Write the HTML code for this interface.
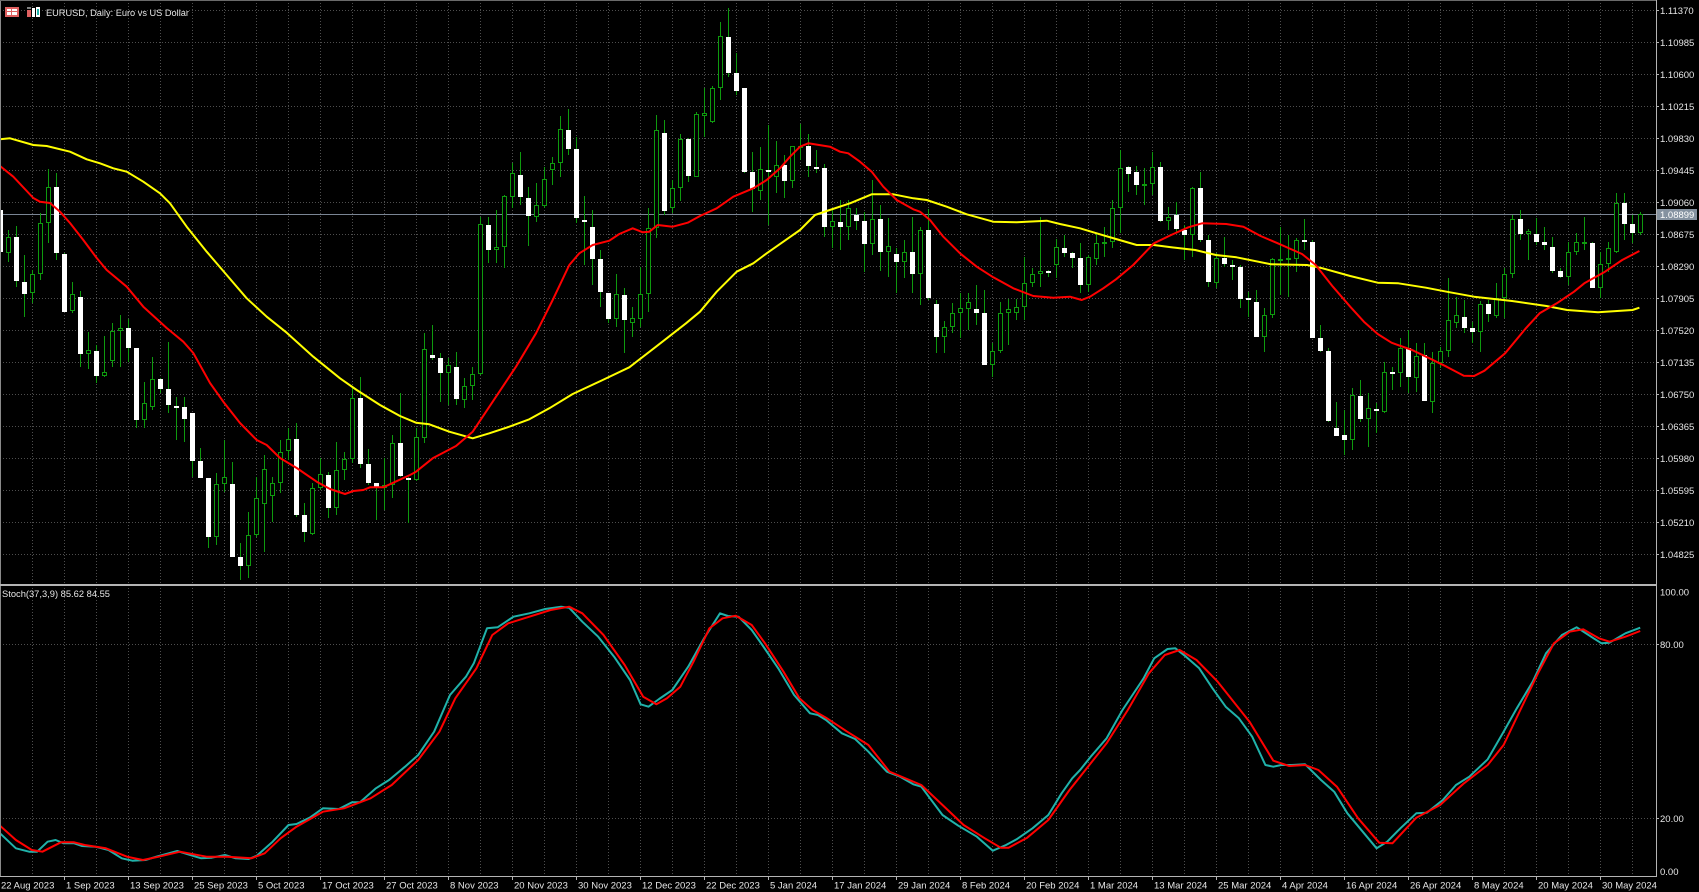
<!DOCTYPE html>
<html>
<head>
<meta charset="utf-8">
<style>
html,body{margin:0;padding:0;background:#000;width:1699px;height:892px;overflow:hidden;}
svg{display:block;}
text{font-family:"Liberation Sans",sans-serif;fill:#e6e6e6;}
</style>
</head>
<body>
<svg width="1699" height="892" viewBox="0 0 1699 892" xmlns="http://www.w3.org/2000/svg">
<rect x="0" y="0" width="1699" height="892" fill="#000"/>

<!-- grid -->
<g stroke="#4e4e4e" stroke-width="1" stroke-dasharray="1 2" fill="none">
<path d="M32.5 0V876M64.5 0V876M96.5 0V876M128.5 0V876M160.5 0V876M192.5 0V876M224.5 0V876M256.5 0V876M288.5 0V876M320.5 0V876M352.5 0V876M384.5 0V876M416.5 0V876M448.5 0V876M480.5 0V876M512.5 0V876M544.5 0V876M576.5 0V876M608.5 0V876M640.5 0V876M672.5 0V876M704.5 0V876M736.5 0V876M768.5 0V876M800.5 0V876M832.5 0V876M864.5 0V876M896.5 0V876M928.5 0V876M960.5 0V876M992.5 0V876M1024.5 0V876M1056.5 0V876M1088.5 0V876M1120.5 0V876M1152.5 0V876M1184.5 0V876M1216.5 0V876M1248.5 0V876M1280.5 0V876M1312.5 0V876M1344.5 0V876M1376.5 0V876M1408.5 0V876M1440.5 0V876M1472.5 0V876M1504.5 0V876M1536.5 0V876M1568.5 0V876M1600.5 0V876M1632.5 0V876"/>
<path d="M0 10.5H1656M0 42.5H1656M0 74.5H1656M0 106.5H1656M0 138.5H1656M0 170.5H1656M0 202.5H1656M0 234.5H1656M0 266.5H1656M0 298.5H1656M0 330.5H1656M0 362.5H1656M0 394.5H1656M0 426.5H1656M0 458.5H1656M0 490.5H1656M0 522.5H1656M0 554.5H1656M0 644.5H1656M0 818.5H1656"/>
</g>

<!-- bid line -->
<path d="M0 214.5H1656" stroke="#7a8594" stroke-width="1"/>

<svg x="0" y="0" width="1656" height="585" overflow="hidden">
<!-- wicks -->
<path fill="none" stroke="#0e9a0e" stroke-width="1" d="M.5 200V270M8.5 230V262M16.5 226V287M24.5 255V317M32.5 270V303M40.5 213V280M48.5 169V243M56.5 173V260M64.5 253V312M72.5 282V313M80.5 291V367M88.5 332V369M96.5 345V383M104.5 336V377M112.5 323V367M120.5 315V367M128.5 319V362M136.5 348V428M144.5 382V428M152.5 357V410M160.5 378V393M168.5 342V413M176.5 397V440M184.5 397V442M192.5 413V477M200.5 448V478M208.5 478V548M216.5 473V545M224.5 440V492M232.5 462V557M240.5 543V580M248.5 512V578M256.5 477V537M264.5 455V552M272.5 477V522M280.5 440V493M288.5 428V460M296.5 423V517M304.5 503V542M312.5 483V535M320.5 458V490M328.5 472V518M336.5 442V515M344.5 452V480M352.5 388V463M360.5 377V468M368.5 449V485M376.5 483V520M384.5 458V510M392.5 435V498M400.5 393V477M408.5 477V523M416.5 428V481M424.5 333V443M432.5 325V360M440.5 353V402M448.5 358V405M456.5 352V405M464.5 378V408M472.5 367V400M480.5 217V375M488.5 217V263M496.5 210V263M504.5 195V268M512.5 163V208M520.5 152V205M528.5 187V246M536.5 183V222M544.5 167V208M552.5 157V185M560.5 116V177M568.5 109V155M576.5 137V223M584.5 196V265M592.5 210V285M600.5 250V307M608.5 293V323M616.5 274V327M624.5 288V353M632.5 307V337M640.5 267V327M648.5 208V312M656.5 115V238M664.5 120V215M672.5 180V213M680.5 134V201M688.5 138V182M696.5 112V177M704.5 88V137M712.5 86V123M720.5 22V100M728.5 8V77M736.5 53V95M744.5 88V173M752.5 152V212M760.5 147V200M768.5 125V225M776.5 141V193M784.5 155V198M792.5 146V188M800.5 124V160M808.5 134V177M816.5 150V173M824.5 164V237M832.5 208V248M840.5 200V250M848.5 200V240M856.5 208V230M864.5 212V272M872.5 180V255M880.5 205V271M888.5 218V277M896.5 248V293M904.5 240V278M912.5 217V293M920.5 227V305M928.5 209V300M936.5 300V353M944.5 321V353M952.5 303V333M960.5 293V338M968.5 293V330M976.5 285V325M984.5 290V365M992.5 343V377M1000.5 302V353M1008.5 299V345M1016.5 299V320M1024.5 257V320M1032.5 268V287M1040.5 217V287M1048.5 270V277M1056.5 239V278M1064.5 235V257M1072.5 252V268M1080.5 243V293M1088.5 255V292M1096.5 233V265M1104.5 227V257M1112.5 200V248M1120.5 150V233M1128.5 166V192M1136.5 166V195M1144.5 168V205M1152.5 152V195M1160.5 162V222M1168.5 207V230M1176.5 202V232M1184.5 225V260M1192.5 187V257M1200.5 172V242M1208.5 235V287M1216.5 253V288M1224.5 237V267M1232.5 260V280M1240.5 265V308M1248.5 292V317M1256.5 290V337M1264.5 308V352M1272.5 258V318M1280.5 227V295M1288.5 235V297M1296.5 238V272M1304.5 219V250M1312.5 240V338M1320.5 325V352M1328.5 348V422M1336.5 402V436M1344.5 410V455M1352.5 388V450M1360.5 380V422M1368.5 393V447M1376.5 403V433M1384.5 362V413M1392.5 367V390M1400.5 338V387M1408.5 330V393M1416.5 343V392M1424.5 343V401M1432.5 352V413M1440.5 347V368M1448.5 278V357M1456.5 297V328M1464.5 300V333M1472.5 322V343M1480.5 301V352M1488.5 300V322M1496.5 283V318M1504.5 268V318M1512.5 215V278M1520.5 210V240M1528.5 229V260M1536.5 218V245M1544.5 227V250M1552.5 237V273M1560.5 268V278M1568.5 242V285M1576.5 233V255M1584.5 217V250M1592.5 242V288M1600.5 252V298M1608.5 242V272M1616.5 193V253M1624.5 193V240M1632.5 215V243M1640.5 212V235"/>

<!-- bear (white) bodies -->
<path fill="#ffffff" d="M-2 210h5V252h-5zM14 237h5V281h-5zM22 282h5V294h-5zM54 187h5V253h-5zM62 254h5V312h-5zM78 297h5V354h-5zM94 351h5V376h-5zM126 328h5V348h-5zM134 348h5V420h-5zM158 379h5V389h-5zM166 389h5V405h-5zM174 406h5V408h-5zM182 407h5V419h-5zM190 413h5V461h-5zM198 461h5V478h-5zM206 478h5V537h-5zM230 484h5V557h-5zM238 557h5V566h-5zM294 439h5V515h-5zM302 515h5V532h-5zM326 475h5V508h-5zM358 398h5V464h-5zM366 464h5V483h-5zM374 483h5V487h-5zM398 443h5V476h-5zM406 478h5V480h-5zM430 355h5V358h-5zM438 358h5V373h-5zM454 367h5V399h-5zM486 225h5V250h-5zM518 175h5V197h-5zM526 198h5V216h-5zM566 130h5V149h-5zM574 149h5V218h-5zM582 220h5V222h-5zM590 227h5V259h-5zM598 259h5V292h-5zM606 293h5V319h-5zM622 295h5V320h-5zM662 133h5V211h-5zM686 139h5V176h-5zM726 37h5V73h-5zM734 73h5V91h-5zM742 88h5V172h-5zM750 172h5V189h-5zM766 170h5V172h-5zM782 165h5V181h-5zM806 146h5V166h-5zM814 167h5V169h-5zM822 168h5V227h-5zM838 222h5V227h-5zM854 215h5V221h-5zM862 221h5V244h-5zM878 219h5V252h-5zM894 254h5V262h-5zM910 252h5V274h-5zM926 230h5V298h-5zM934 304h5V337h-5zM974 309h5V313h-5zM982 313h5V365h-5zM1046 271h5V273h-5zM1062 248h5V253h-5zM1070 253h5V258h-5zM1078 258h5V285h-5zM1126 167h5V174h-5zM1134 172h5V185h-5zM1158 167h5V221h-5zM1174 215h5V229h-5zM1182 230h5V235h-5zM1198 188h5V240h-5zM1206 240h5V282h-5zM1222 258h5V264h-5zM1230 265h5V267h-5zM1238 267h5V299h-5zM1246 298h5V300h-5zM1254 302h5V337h-5zM1302 240h5V242h-5zM1310 242h5V338h-5zM1318 338h5V351h-5zM1326 351h5V421h-5zM1334 428h5V436h-5zM1342 435h5V440h-5zM1358 396h5V419h-5zM1374 409h5V411h-5zM1390 372h5V374h-5zM1406 348h5V377h-5zM1422 355h5V401h-5zM1462 317h5V328h-5zM1470 328h5V332h-5zM1486 304h5V314h-5zM1518 219h5V234h-5zM1534 234h5V242h-5zM1542 242h5V245h-5zM1550 247h5V271h-5zM1558 271h5V277h-5zM1590 243h5V288h-5zM1622 203h5V224h-5zM1630 224h5V233h-5z"/>

<!-- bull (hollow) bodies -->
<path fill="#000" stroke="#0e9a0e" stroke-width="1" d="M6.5 237.5h4V252.5h-4zM30.5 274.5h4V292.5h-4zM38.5 223.5h4V273.5h-4zM46.5 187.5h4V222.5h-4zM70.5 294.5h4V310.5h-4zM86.5 350.5h4V353.5h-4zM102.5 372.5h4V375.5h-4zM110.5 331.5h4V360.5h-4zM118.5 328.5h4V330.5h-4zM142.5 403.5h4V419.5h-4zM150.5 379.5h4V406.5h-4zM214.5 484.5h4V536.5h-4zM222.5 477.5h4V483.5h-4zM246.5 535.5h4V565.5h-4zM254.5 498.5h4V534.5h-4zM262.5 469.5h4V503.5h-4zM270.5 483.5h4V495.5h-4zM278.5 452.5h4V482.5h-4zM286.5 439.5h4V450.5h-4zM310.5 488.5h4V533.5h-4zM318.5 474.5h4V487.5h-4zM334.5 470.5h4V507.5h-4zM342.5 459.5h4V469.5h-4zM350.5 398.5h4V458.5h-4zM382.5 485.5h4V487.5h-4zM390.5 443.5h4V484.5h-4zM414.5 437.5h4V479.5h-4zM422.5 349.5h4V437.5h-4zM446.5 365.5h4V372.5h-4zM462.5 386.5h4V399.5h-4zM470.5 374.5h4V385.5h-4zM478.5 224.5h4V373.5h-4zM494.5 247.5h4V249.5h-4zM502.5 196.5h4V246.5h-4zM510.5 173.5h4V196.5h-4zM534.5 205.5h4V216.5h-4zM542.5 179.5h4V205.5h-4zM550.5 163.5h4V169.5h-4zM558.5 129.5h4V162.5h-4zM614.5 294.5h4V318.5h-4zM630.5 318.5h4V322.5h-4zM638.5 294.5h4V318.5h-4zM646.5 228.5h4V293.5h-4zM654.5 130.5h4V227.5h-4zM670.5 188.5h4V207.5h-4zM678.5 139.5h4V187.5h-4zM694.5 114.5h4V176.5h-4zM702.5 113.5h4V115.5h-4zM710.5 88.5h4V121.5h-4zM718.5 36.5h4V87.5h-4zM758.5 169.5h4V190.5h-4zM774.5 165.5h4V176.5h-4zM790.5 146.5h4V180.5h-4zM798.5 146.5h4V147.5h-4zM830.5 221.5h4V226.5h-4zM846.5 208.5h4V226.5h-4zM870.5 219.5h4V243.5h-4zM886.5 246.5h4V251.5h-4zM902.5 252.5h4V261.5h-4zM918.5 230.5h4V273.5h-4zM942.5 327.5h4V336.5h-4zM950.5 313.5h4V326.5h-4zM958.5 308.5h4V312.5h-4zM966.5 302.5h4V308.5h-4zM990.5 351.5h4V364.5h-4zM998.5 313.5h4V350.5h-4zM1006.5 309.5h4V312.5h-4zM1014.5 307.5h4V312.5h-4zM1022.5 283.5h4V306.5h-4zM1030.5 274.5h4V282.5h-4zM1038.5 271.5h4V273.5h-4zM1054.5 247.5h4V264.5h-4zM1086.5 257.5h4V284.5h-4zM1094.5 243.5h4V258.5h-4zM1102.5 242.5h4V243.5h-4zM1110.5 208.5h4V241.5h-4zM1118.5 168.5h4V207.5h-4zM1142.5 184.5h4V185.5h-4zM1150.5 167.5h4V183.5h-4zM1166.5 217.5h4V220.5h-4zM1190.5 188.5h4V234.5h-4zM1214.5 258.5h4V282.5h-4zM1262.5 315.5h4V336.5h-4zM1270.5 259.5h4V314.5h-4zM1278.5 259.5h4V260.5h-4zM1286.5 258.5h4V259.5h-4zM1294.5 240.5h4V258.5h-4zM1350.5 395.5h4V439.5h-4zM1366.5 408.5h4V418.5h-4zM1382.5 372.5h4V411.5h-4zM1398.5 348.5h4V372.5h-4zM1414.5 356.5h4V377.5h-4zM1430.5 363.5h4V401.5h-4zM1438.5 351.5h4V362.5h-4zM1446.5 320.5h4V350.5h-4zM1454.5 315.5h4V322.5h-4zM1478.5 304.5h4V331.5h-4zM1494.5 298.5h4V315.5h-4zM1502.5 274.5h4V297.5h-4zM1510.5 219.5h4V273.5h-4zM1526.5 231.5h4V233.5h-4zM1566.5 252.5h4V276.5h-4zM1574.5 242.5h4V251.5h-4zM1582.5 242.5h4V243.5h-4zM1598.5 264.5h4V287.5h-4zM1606.5 248.5h4V263.5h-4zM1614.5 203.5h4V251.5h-4zM1638.5 214.5h4V232.5h-4z"/>

<!-- moving averages -->
<polyline fill="none" stroke="#ffff00" stroke-width="2" stroke-linejoin="round" points="0,139.3 10,138.3 33.3,145 46.7,146 70,151.7 86.7,159.3 100,163.3 113.3,168.3 126.7,171.7 143.3,181.7 160,193.3 170,203.3 186.7,226.7 206.7,251.7 226.7,275 246.7,298.3 266.7,316.7 286.7,332.7 313.3,356.7 340,378.3 356.7,390 380,405 400,416 416,422.7 429.3,424.3 449.3,431.7 472.7,438.3 489.3,433.3 509.3,426.7 529.3,419.3 549.3,408.3 572.7,394 602.7,380 629.3,367.3 656,346.7 686,323.3 700,311.7 716.7,291.7 736.7,271.7 753.3,263.3 766.7,253.3 786.7,239.3 800,230 815,215 826.7,211 850,203.3 871.7,194.3 893.3,194.3 913.3,198.3 926.7,200 946.7,206.7 966.7,214.3 993.3,221.7 1016.7,222.3 1046.7,220.7 1060,224 1080,228.3 1100,234.3 1116,239 1136.7,245 1153.9,245 1171.1,247.3 1195.2,250 1215.9,255 1236.5,257.3 1271,264.3 1307.1,265 1322.6,268.3 1350.2,276 1377.7,282.7 1398.4,283.3 1425.9,287.7 1446.6,291.7 1474.1,296.7 1512,301 1546.4,306 1567.1,310 1598,312.3 1632.5,310 1639.4,307.7"/>
<polyline fill="none" stroke="#ff0000" stroke-width="2" stroke-linejoin="round" points="0,166 13.3,176.7 33.3,198 40,201.7 50,203 60,211.7 70,223 83.3,240 96.7,258 106.7,270 126.7,286.7 143.3,306.7 166.7,328 183.3,341.7 193.3,353 210,383 223.3,401.7 240,423 256.7,440 266.7,445 280,458 296.7,468 316.7,481.7 330,489 345,494 353.3,491 363.3,490 370,487.3 383.3,487.3 393.3,482.7 410,475 416,471.7 432.7,458.3 456,446 472.7,431.7 492.7,401.7 516,366.7 536,333.3 552.7,300 569.3,265 579.3,253.3 592.7,245 609.3,240.7 619.3,234 632.7,228.3 642.7,232.3 649.3,231.7 657.7,225 672.7,226.7 687.7,222.7 700,216 716.7,208.3 733.3,196.7 753.3,188.3 766.7,180 780,168.3 790,156.7 800,146.7 808.3,143.3 830,146.7 840,151.7 848.3,153.3 860,161.7 871.7,171.7 883.3,186.7 896.7,200 913.3,209.3 920,211.7 930,220 943.3,236.7 960,253.3 976.7,266.7 993.3,277.3 1013.3,288.3 1033.3,296 1053.3,297.7 1070,296.7 1081.7,300 1090,296.7 1103.3,288.3 1116,279.3 1133.2,265 1153.9,243.3 1171.1,235 1188.3,227.3 1202.1,223.3 1226.2,224 1243.4,226.7 1260.6,236 1277.8,243.3 1302,254 1315.7,265 1332.9,286.7 1350.2,306.7 1363.9,321.7 1377.7,334 1391.5,342.7 1412.1,350 1429.4,358.3 1446.6,366.7 1463.8,375.7 1474.1,376 1484.5,370.7 1505.1,353.3 1525.8,328.3 1539.6,313.3 1556.8,303.3 1574,291.7 1584.3,283.3 1605,271.7 1622.2,260 1639.4,251"/>
</svg>

<!-- stochastic -->
<svg x="0" y="586" width="1656" height="290" overflow="hidden">
<g transform="translate(0,-586)">
<polyline fill="none" stroke="#20b2aa" stroke-width="2" stroke-linejoin="round" points="0,833.3 15.9,848.3 29.1,851.7 37.1,851.7 47.6,841.7 55.6,840 63.5,843.3 74.1,843.3 82.1,846 95.3,846.7 108.5,850 121.8,858.3 132.3,860.7 145.6,860 156.2,856.7 177.3,851 187.9,854.3 201.2,858.3 211.8,857.7 225,855 235.6,858.3 248.8,859 256.8,855.7 272.6,841.7 288.5,825 296.5,824 309.7,817.7 322.9,808.3 338.8,809 352,802.3 360,802.3 375.9,788.3 389.1,780 405,766.7 418.2,755 434.1,731.7 450,695 465.9,676.7 473.8,663.3 487,628.3 497.6,627.3 513.5,616.7 529.4,613.3 545.3,609 561.1,606.7 569.1,607.7 582.3,621.7 598.2,636.7 614.1,656.7 630,680 640.6,704.3 648.5,706.7 659.1,699 672.3,690 688.2,666.7 704.1,638.3 720,613.3 727.9,616 738.5,616.7 751.7,630 762.3,645 778.2,668.3 794.1,695 810,713.3 817.9,715 826,720 841.9,733.3 855.1,739 868.4,751.7 886.9,771.7 900.1,776.7 913.3,784.3 921.3,786.7 942.5,815 958.3,825.7 976.9,836.7 992.8,850.7 1006,845 1016.6,839.3 1032.5,828.3 1048.3,815 1061.6,793.3 1072.2,778.3 1080.1,770 1090.7,756.7 1106.6,738.3 1122.5,710 1143.6,678.3 1154.2,658.3 1167.5,649 1175.4,648.3 1186,656.7 1199.2,668.3 1212.5,688.3 1225.7,706.7 1238.9,718.3 1252.2,736.7 1265.4,765 1273.3,766.7 1281.3,765 1291.9,765 1305.1,764.3 1321,780 1334.2,791.7 1347.4,813.3 1376.6,848.3 1387.2,841.7 1400.4,828.3 1416.3,813.3 1426.9,812.7 1442.8,800 1456,785 1469.3,776.7 1487.7,759.3 1503.6,731.7 1516.8,708.3 1532.7,681.7 1546,653.3 1561.9,635 1576.7,627.3 1593.6,638.3 1601.5,643.3 1609.5,642.7 1625.4,633.3 1640.2,627.7"/>
<polyline fill="none" stroke="#ff0000" stroke-width="2" stroke-linejoin="round" points="0,825.7 15.9,840 31.8,850 42.4,851.7 60.9,842.3 74.1,842.3 84.7,845 105.9,848.3 127,856.7 142.9,860 158.8,856.7 180,851.7 206.5,856.7 227.6,856.7 251.5,858.3 264.7,853.3 280.6,838.3 296.5,826.7 322.9,811.7 344.1,808.3 370.6,798.3 391.7,785 418.2,760 439.4,731.7 455.3,698.3 476.4,668.3 492.3,635 508.2,623.3 529.4,616.7 550.6,610 569.1,606.7 582.3,613.3 603.5,635 624.7,665 643.2,696.7 656.4,704.3 667,698.3 680.3,686.7 693.5,661.7 709.4,628.3 722.6,618.3 735.8,615.7 751.7,625 765,643.3 783.5,671.7 799.4,698.3 812.6,710 826,717.7 847.2,731.7 868.4,745 889.5,771.7 921.3,785 942.5,805 963.6,825 984.8,838.3 1000.7,847.7 1008.6,847.7 1027.2,837.7 1048.3,820 1069.5,790 1085.4,770 1106.6,743.3 1127.8,710 1148.9,673.3 1164.8,655 1179.6,650 1196.5,660 1217.7,681.7 1233.6,701.7 1249.5,721.7 1273.3,760.7 1289.2,766 1305.1,765 1318.4,770 1336.9,786.7 1358.1,818.3 1379.2,842.7 1392.4,843.3 1416.3,817.7 1440.1,805 1464,783.3 1487.7,765 1503.6,745 1519.5,711.7 1538,673.3 1553.9,643.3 1569.8,631.7 1583.1,629.3 1598.9,638.3 1609.5,641.7 1625.4,636.7 1640.2,631"/>
</g>
</svg>

<!-- borders / axes -->
<path d="M0.5 0V877" stroke="#8a8a8a" stroke-width="1"/>
<path d="M0 0.5H1657" stroke="#6a6a6a" stroke-width="1"/>
<path d="M0 585H1657" stroke="#b4b4b4" stroke-width="2"/>
<path d="M1656.5 0V877" stroke="#b4b4b4" stroke-width="1"/>
<path d="M0 876.5H1657" stroke="#b4b4b4" stroke-width="1"/>

<!-- right axis ticks -->
<path stroke="#b4b4b4" stroke-width="1" d="M1656 10.5h3M1656 42.5h3M1656 74.5h3M1656 106.5h3M1656 138.5h3M1656 170.5h3M1656 202.5h3M1656 234.5h3M1656 266.5h3M1656 298.5h3M1656 330.5h3M1656 362.5h3M1656 394.5h3M1656 426.5h3M1656 458.5h3M1656 490.5h3M1656 522.5h3M1656 554.5h3M1656 644.5h3M1656 818.5h3"/>
<!-- bottom axis ticks -->
<path stroke="#b4b4b4" stroke-width="1" d="M64.5 876v4M128.5 876v4M192.5 876v4M256.5 876v4M320.5 876v4M384.5 876v4M448.5 876v4M512.5 876v4M576.5 876v4M640.5 876v4M704.5 876v4M768.5 876v4M832.5 876v4M896.5 876v4M960.5 876v4M1024.5 876v4M1088.5 876v4M1152.5 876v4M1216.5 876v4M1280.5 876v4M1344.5 876v4M1408.5 876v4M1472.5 876v4M1536.5 876v4M1600.5 876v4"/>

<!-- price labels -->
<g font-size="9.5">
<text x="1660" y="14">1.11370</text>
<text x="1660" y="46">1.10985</text>
<text x="1660" y="78">1.10600</text>
<text x="1660" y="110">1.10215</text>
<text x="1660" y="142">1.09830</text>
<text x="1660" y="174">1.09445</text>
<text x="1660" y="206">1.09060</text>
<text x="1660" y="238">1.08675</text>
<text x="1660" y="270">1.08290</text>
<text x="1660" y="302">1.07905</text>
<text x="1660" y="334">1.07520</text>
<text x="1660" y="366">1.07135</text>
<text x="1660" y="398">1.06750</text>
<text x="1660" y="430">1.06365</text>
<text x="1660" y="462">1.05980</text>
<text x="1660" y="494">1.05595</text>
<text x="1660" y="526">1.05210</text>
<text x="1660" y="558">1.04825</text>
<text x="1660" y="595.5">100.00</text>
<text x="1660" y="648">80.00</text>
<text x="1660" y="822">20.00</text>
<text x="1660" y="875">0.00</text>
</g>
<rect x="1657" y="209" width="40" height="11" fill="#8592a0"/>
<text x="1660" y="218" font-size="9.5" style="fill:#ffffff">1.08899</text>

<!-- date labels -->
<g font-size="9.5">
<text x="1" y="888.5">22 Aug 2023</text>
<text x="66" y="888.5">1 Sep 2023</text>
<text x="130" y="888.5">13 Sep 2023</text>
<text x="194" y="888.5">25 Sep 2023</text>
<text x="258" y="888.5">5 Oct 2023</text>
<text x="322" y="888.5">17 Oct 2023</text>
<text x="386" y="888.5">27 Oct 2023</text>
<text x="450" y="888.5">8 Nov 2023</text>
<text x="514" y="888.5">20 Nov 2023</text>
<text x="578" y="888.5">30 Nov 2023</text>
<text x="642" y="888.5">12 Dec 2023</text>
<text x="706" y="888.5">22 Dec 2023</text>
<text x="770" y="888.5">5 Jan 2024</text>
<text x="834" y="888.5">17 Jan 2024</text>
<text x="898" y="888.5">29 Jan 2024</text>
<text x="962" y="888.5">8 Feb 2024</text>
<text x="1026" y="888.5">20 Feb 2024</text>
<text x="1090" y="888.5">1 Mar 2024</text>
<text x="1154" y="888.5">13 Mar 2024</text>
<text x="1218" y="888.5">25 Mar 2024</text>
<text x="1282" y="888.5">4 Apr 2024</text>
<text x="1346" y="888.5">16 Apr 2024</text>
<text x="1410" y="888.5">26 Apr 2024</text>
<text x="1474" y="888.5">8 May 2024</text>
<text x="1538" y="888.5">20 May 2024</text>
<text x="1602" y="888.5">30 May 2024</text>
</g>

<!-- title icons -->
<rect x="5" y="7" width="14" height="10" fill="#e06060"/>
<rect x="7" y="9" width="4" height="2" fill="#ffffff"/>
<rect x="12" y="9" width="5" height="2" fill="#ffffff"/>
<rect x="7" y="12" width="4" height="3" fill="#ffffff"/>
<rect x="12" y="12" width="5" height="3" fill="#ffffff"/>
<rect x="27" y="10" width="4" height="7" fill="#e06060"/>
<rect x="32" y="8" width="3" height="9" fill="#ffffff"/>
<rect x="36" y="7" width="4" height="10" fill="#ffffff"/>
<rect x="37" y="9" width="2" height="6" fill="#20b2aa"/>
<path d="M27 8h4" stroke="#ffffff" stroke-width="1"/>

<text x="46" y="16" font-size="9.5" textLength="143" lengthAdjust="spacingAndGlyphs">EURUSD, Daily:  Euro vs US Dollar</text>
<text x="2" y="597" font-size="9.5" textLength="108" lengthAdjust="spacingAndGlyphs">Stoch(37,3,9) 85.62 84.55</text>
</svg>
</body>
</html>
